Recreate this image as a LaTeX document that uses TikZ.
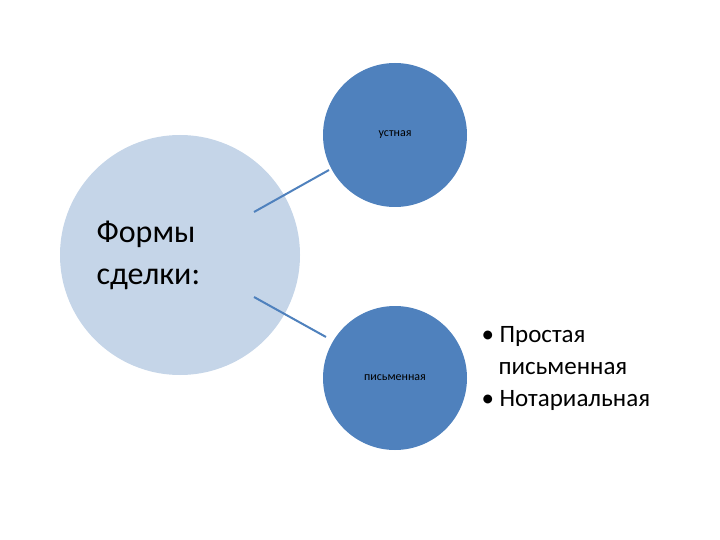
\documentclass[tikz,border=0pt]{standalone}
\usepackage{fontspec}
\setmainfont{Carlito}
\begin{document}
\begin{tikzpicture}[x=1pt,y=-1pt,
  big/.style={circle,fill=light,minimum size=240pt,inner sep=0pt},
  small/.style={circle,fill=dark,minimum size=144pt,inner sep=0pt,font=\fontsize{12}{14}\selectfont},
  conn/.style={draw=dark,line width=2pt}]
\definecolor{light}{HTML}{C5D5E8}
\definecolor{dark}{HTML}{4F81BD}
\useasboundingbox (0,0) rectangle (720,540);
\node[big] (main) at (180,255) {};
\node[anchor=west,align=left,font=\fontsize{32}{42}\selectfont] (lbl) at (93,255) {Формы\\сделки:};
\node[small] (oral) at (395,135) {устная};
\node[small] (written) at (395,378) {письменная};
\coordinate (a1) at (254,212); \coordinate (a2) at (329,170);
\coordinate (b1) at (254,297); \coordinate (b2) at (326,337);
\draw[conn] (a1) -- (a2);
\draw[conn] (b1) -- (b2);
\node[anchor=west,align=left,font=\fontsize{25}{32}\selectfont] (list) at (478,368)
 {• Простая\\\hspace*{17pt}письменная\\• Нотариальная};
\end{tikzpicture}
\end{document}
